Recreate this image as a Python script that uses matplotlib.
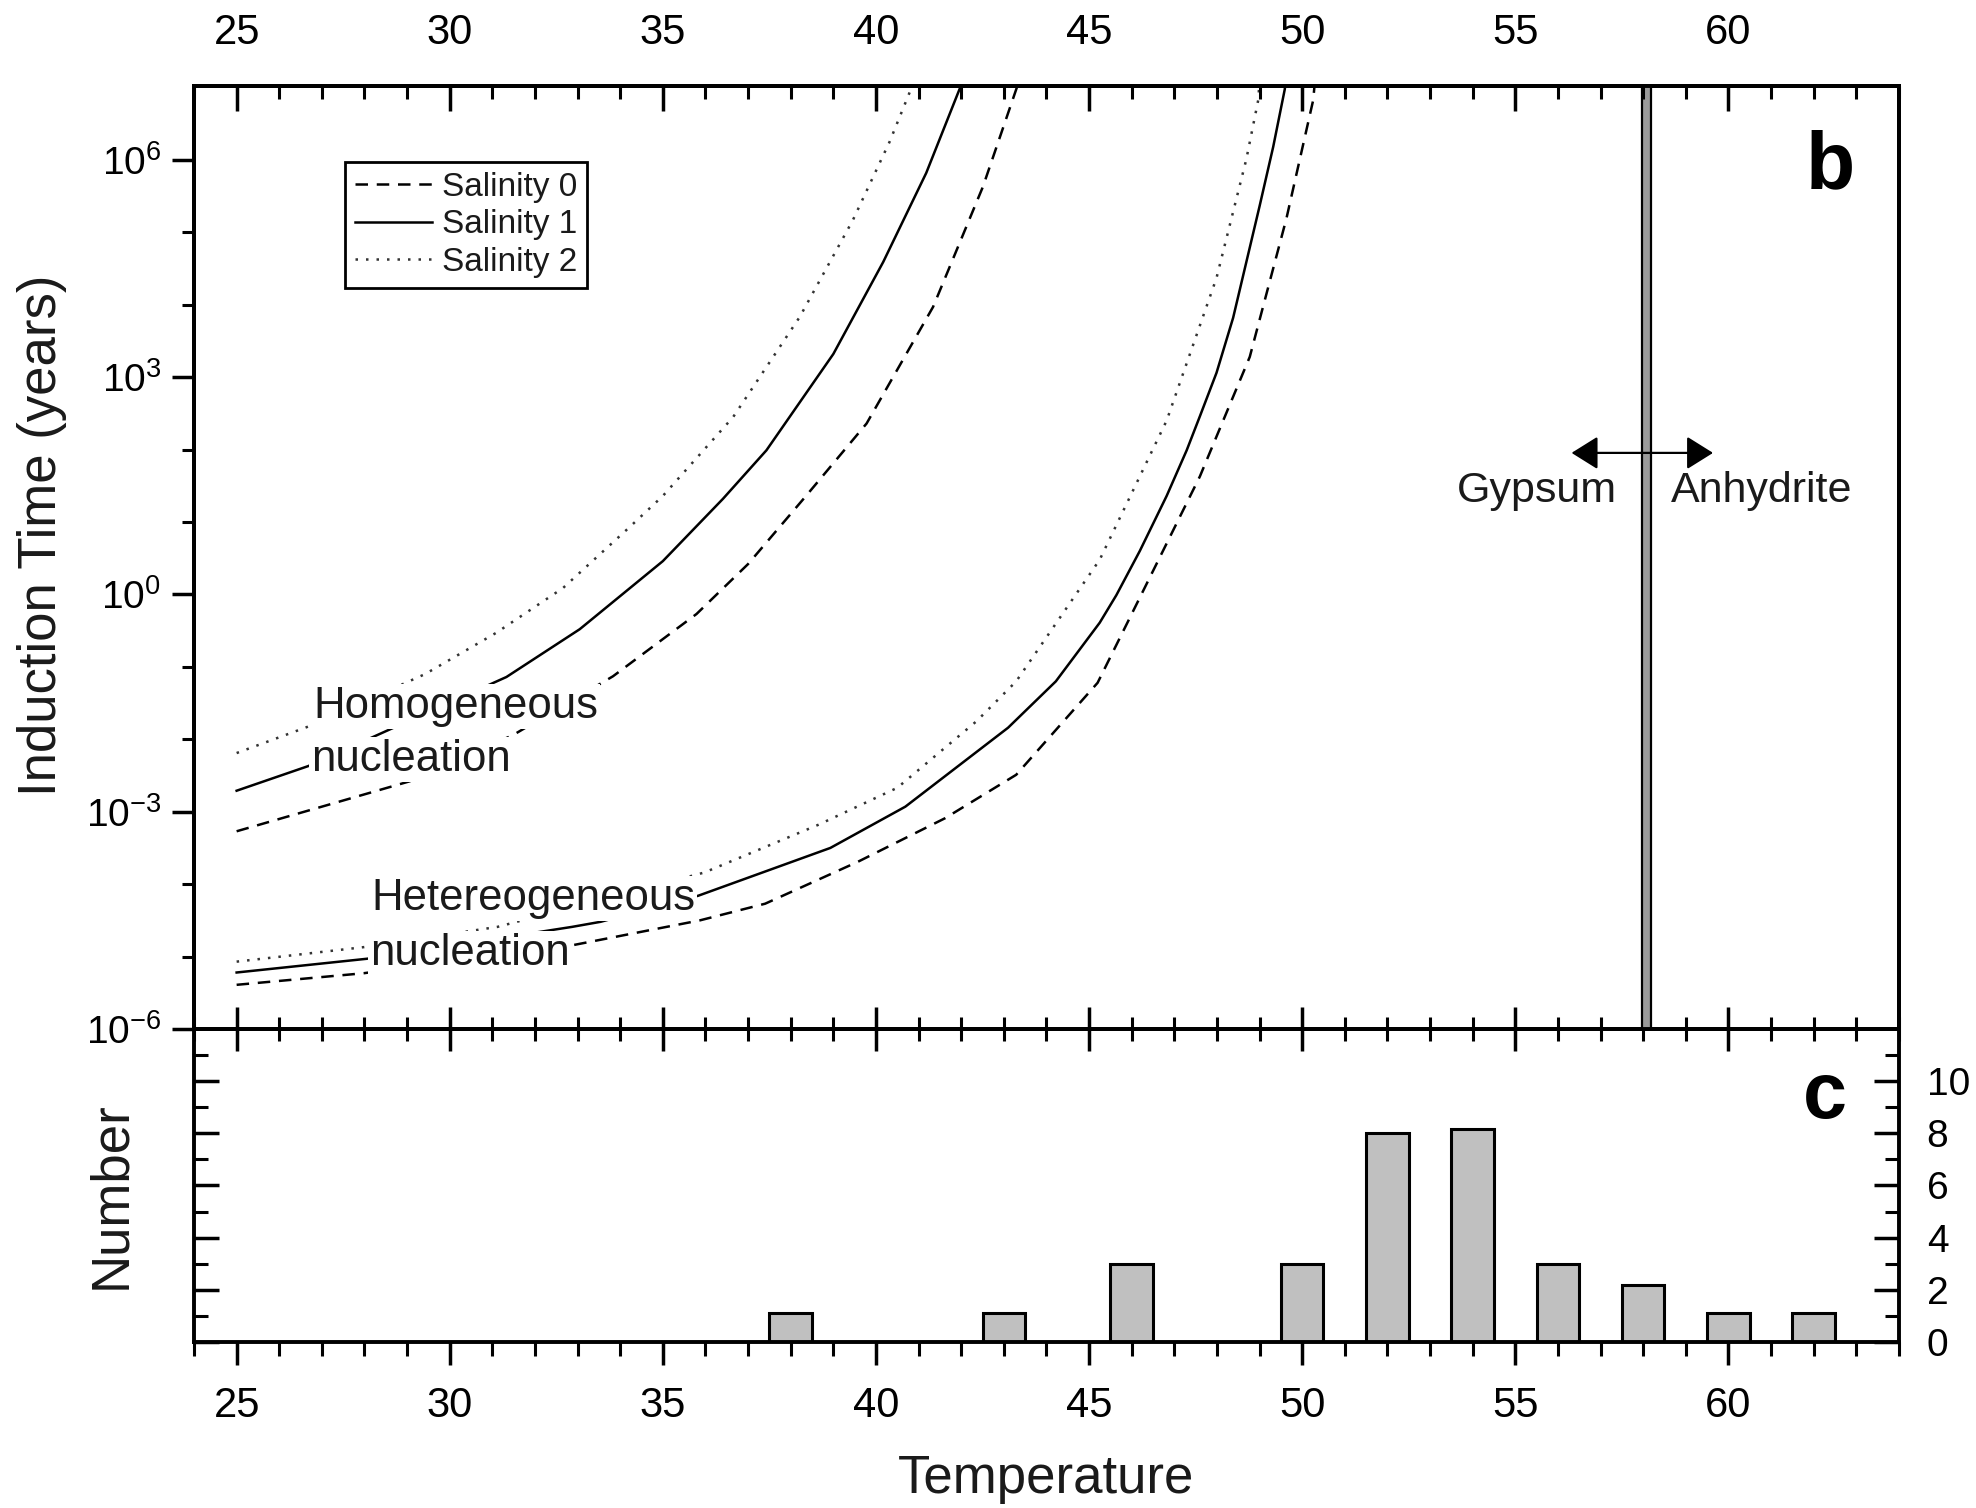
import numpy as np
import matplotlib
matplotlib.use('Agg')
import matplotlib.pyplot as plt
from matplotlib.ticker import FixedLocator, MultipleLocator, FixedFormatter, NullFormatter

plt.rcParams['font.family'] = ['Liberation Sans', 'DejaVu Sans']
plt.rcParams['mathtext.fontset'] = 'custom'
plt.rcParams['mathtext.rm'] = 'Liberation Sans'
plt.rcParams['mathtext.it'] = 'Liberation Sans:italic'
plt.rcParams['mathtext.bf'] = 'Liberation Sans:bold'

# ---------------- data (temperature, log10 induction time in years) ----------------
homo_s0_T = [25.0, 29.06, 31.49, 33.83, 35.79, 37.0, 38.33, 39.78, 41.34, 42.51, 43.30, 43.35]
homo_s0_logt = [-3.27, -2.58, -1.94, -1.13, -0.27, 0.42, 1.34, 2.36, 3.97, 5.63, 6.99, 7.1]

homo_s1_T = [25.0, 26.68, 31.33, 33.05, 35.0, 36.41, 37.43, 39.0, 40.17, 41.18, 41.97, 42.0]
homo_s1_logt = [-2.71, -2.37, -1.14, -0.48, 0.46, 1.32, 1.99, 3.32, 4.59, 5.82, 6.99, 7.1]

homo_s2_T = [25.0, 26.7, 29.42, 31.09, 32.66, 34.22, 35.0, 36.65, 38.21, 39.46, 40.32, 40.83, 40.86]
homo_s2_logt = [-2.19, -1.82, -1.10, -0.53, 0.09, 0.93, 1.36, 2.45, 3.83, 5.17, 6.25, 6.99, 7.1]

het_s0_T = [25.0, 27.98, 32.91, 35.87, 37.4, 39.58, 41.62, 43.29, 45.2, 47.6, 48.77, 49.63, 50.26, 50.3]
het_s0_logt = [-5.39, -5.23, -4.84, -4.50, -4.27, -3.69, -3.09, -2.49, -1.22, 1.63, 3.28, 5.19, 6.83, 7.1]

het_s1_T = [25.0, 28.06, 32.87, 33.54, 35.83, 38.93, 40.69, 43.1, 44.22, 45.25, 45.64, 46.19, 46.82,
            47.29, 47.6, 47.99, 48.38, 48.69, 49.0, 49.32, 49.59, 49.62]
het_s1_logt = [-5.22, -5.03, -4.59, -4.52, -4.16, -3.50, -2.93, -1.84, -1.20, -0.39, -0.01, 0.60, 1.36,
               1.99, 2.46, 3.06, 3.82, 4.59, 5.36, 6.18, 6.97, 7.1]

het_s2_T = [25.0, 27.98, 31.12, 35.97, 38.65, 40.5, 42.36, 43.29, 45.25, 46.82, 47.99, 48.69, 48.97, 49.0]
het_s2_logt = [-5.07, -4.87, -4.59, -3.84, -3.18, -2.67, -1.75, -1.20, 0.48, 2.40, 4.37, 6.01, 6.83, 7.1]

legend_labels = ['Salinity 0', 'Salinity 1', 'Salinity 2']

hist_T = [38, 43, 46, 50, 52, 54, 56, 58, 60, 62]
hist_n = [1.1, 1.1, 3, 3, 8, 8.15, 3, 2.2, 1.1, 1.1]

x_major = [25, 30, 35, 40, 45, 50, 55, 60]
y_major_exp = [-6, -3, 0, 3, 6]
y_minor_exp = [-5, -4, -2, -1, 1, 2, 4, 5]
y_major_labels = [r'$\mathregular{10^{-6}}$', r'$\mathregular{10^{-3}}$', r'$\mathregular{10^{0}}$',
                  r'$\mathregular{10^{3}}$', r'$\mathregular{10^{6}}$']
hist_major = [0, 2, 4, 6, 8, 10]
hist_minor = [1, 3, 5, 7, 9, 11]

# ---------------- figure ----------------
fig = plt.figure(figsize=(19.76, 15.08), dpi=100)
ax = fig.add_axes([0.09818, 0.31764, 0.8628, 0.62533])
ax2 = fig.add_axes([0.09818, 0.11008, 0.8628, 0.20756])
ax2.patch.set_alpha(0)

ls_dash = (0, (5, 3.5))
ls_dot = (0, (1, 3.2))
lw = 1.8
col = 'black'

def pw(v):
    return 10.0 ** np.asarray(v)

l0, = ax.plot(homo_s0_T, pw(homo_s0_logt), color=col, lw=lw, ls=ls_dash)
l1, = ax.plot(homo_s1_T, pw(homo_s1_logt), color=col, lw=lw, ls='-')
l2, = ax.plot(homo_s2_T, pw(homo_s2_logt), color='#333333', lw=lw, ls=ls_dot)
ax.plot(het_s0_T, pw(het_s0_logt), color=col, lw=lw, ls=ls_dash)
ax.plot(het_s1_T, pw(het_s1_logt), color=col, lw=lw, ls='-')
ax.plot(het_s2_T, pw(het_s2_logt), color='#333333', lw=lw, ls=ls_dot)

ax.set_yscale('log')
ax.set_xlim(24, 64)
ax.set_ylim(1e-6, 10 ** 7.02)

# gypsum / anhydrite transition
ax.axvspan(57.97, 58.19, facecolor='#9a9a9a', edgecolor='black', linewidth=1.6, zorder=3)
ax.annotate('', xy=(56.32, 90), xytext=(59.64, 90),
            arrowprops=dict(arrowstyle='<|-|>,head_length=0.4,head_width=0.25',
                            mutation_scale=41, color='black', lw=1.6, shrinkA=0, shrinkB=0))
ax.text(55.5, 10 ** 1.27, 'Gypsum', fontsize=31, ha='center', va='baseline', color='#1a1a1a')
ax.text(60.79, 10 ** 1.27, 'Anhydrite', fontsize=31, ha='center', va='baseline', color='#1a1a1a')

tb = dict(facecolor='white', edgecolor='none', pad=1.5)
ax.text(26.79, 10 ** -1.705, 'Homogeneous', fontsize=31.5, ha='left', va='baseline', color='#1a1a1a', bbox=tb, zorder=5)
ax.text(26.75, 10 ** -2.44, 'nucleation', fontsize=31.5, ha='left', va='baseline', color='#1a1a1a', bbox=tb, zorder=5)
ax.text(28.15, 10 ** -4.36, 'Hetereogeneous', fontsize=31.5, ha='left', va='baseline', color='#1a1a1a', bbox=tb, zorder=5)
ax.text(28.13, 10 ** -5.12, 'nucleation', fontsize=31.5, ha='left', va='baseline', color='#1a1a1a', bbox=tb, zorder=5)

ax.text(0.9595, 0.914, 'b', transform=ax.transAxes, fontsize=58, fontweight='bold', ha='center', va='center')

leg = ax.legend(handles=[l0, l1, l2], labels=legend_labels, loc='upper left',
                bbox_to_anchor=(0.0886, 0.9197), fontsize=24, frameon=True, fancybox=False,
                edgecolor='black', framealpha=1, handlelength=2.3, handletextpad=0.3,
                borderpad=0.3, labelspacing=0.2, borderaxespad=0)
leg.get_frame().set_linewidth(2)
for t in leg.get_texts():
    t.set_color('#1a1a1a')

# main axis ticks
ax.yaxis.set_major_locator(FixedLocator(pw(y_major_exp)))
ax.yaxis.set_minor_locator(FixedLocator(pw(y_minor_exp)))
ax.yaxis.set_major_formatter(FixedFormatter(y_major_labels))
ax.yaxis.set_minor_formatter(NullFormatter())
ax.tick_params(axis='y', which='major', direction='out', length=15.6, width=2.5, labelsize=28, pad=8, right=False)
ax.tick_params(axis='y', which='minor', direction='out', length=8.4, width=2.2, right=False)

ax.xaxis.set_major_locator(FixedLocator(x_major))
ax.xaxis.set_minor_locator(MultipleLocator(1))
ax.tick_params(axis='x', which='major', direction='inout', length=32, width=2.5, labelbottom=False, top=False)
ax.tick_params(axis='x', which='minor', direction='inout', length=17, width=2.2, top=False)

axt = ax.twiny()
axt.set_xlim(24, 64)
axt.xaxis.set_major_locator(FixedLocator(x_major))
axt.xaxis.set_minor_locator(MultipleLocator(1))
axt.tick_params(axis='x', which='major', direction='in', length=18, width=2.5, labelsize=30, pad=24)
axt.tick_params(axis='x', which='minor', direction='in', length=9.5, width=2.2)

for a in (ax, axt, ax2):
    for s in a.spines.values():
        s.set_linewidth(2.8)

fig.text(42 / 1976, 1 - 535.5 / 1508, 'Induction Time (years)', rotation=90, fontsize=38,
         ha='center', va='center', color='#1a1a1a')

# ---------------- histogram ----------------
ax2.bar(hist_T, hist_n, width=1.0, color='#c0c0c0', edgecolor='black', linewidth=2.2, zorder=2)
ax2.set_xlim(24, 64)
ax2.set_ylim(0, 12)
ax2.xaxis.set_major_locator(FixedLocator(x_major))
ax2.xaxis.set_minor_locator(MultipleLocator(1))
ax2.tick_params(axis='x', which='major', direction='out', length=16.7, width=2.5, labelsize=30, pad=15, top=False)
ax2.tick_params(axis='x', which='minor', direction='out', length=10, width=2.2, top=False)
ax2.yaxis.set_major_locator(FixedLocator(hist_major))
ax2.yaxis.set_minor_locator(FixedLocator(hist_minor))
ax2.tick_params(axis='y', which='major', direction='in', length=18, width=2.5, labelsize=28, pad=20,
                left=True, right=True, labelleft=False, labelright=True)
ax2.tick_params(axis='y', which='minor', direction='in', length=10, width=2.2, left=True, right=True)
ax2.spines['top'].set_visible(False)
ax2.text(0.9566, 0.78, 'c', transform=ax2.transAxes, fontsize=57, fontweight='bold', ha='center', va='center')

fig.text(111 / 1976, 1 - 1195 / 1508, 'Number', rotation=90, fontsize=38, ha='center', va='center', color='#1a1a1a')
fig.text(1046 / 1976, 1 - 1479 / 1508, 'Temperature', fontsize=38, ha='center', va='center', color='#1a1a1a')

fig.savefig('out.png', dpi=100)
